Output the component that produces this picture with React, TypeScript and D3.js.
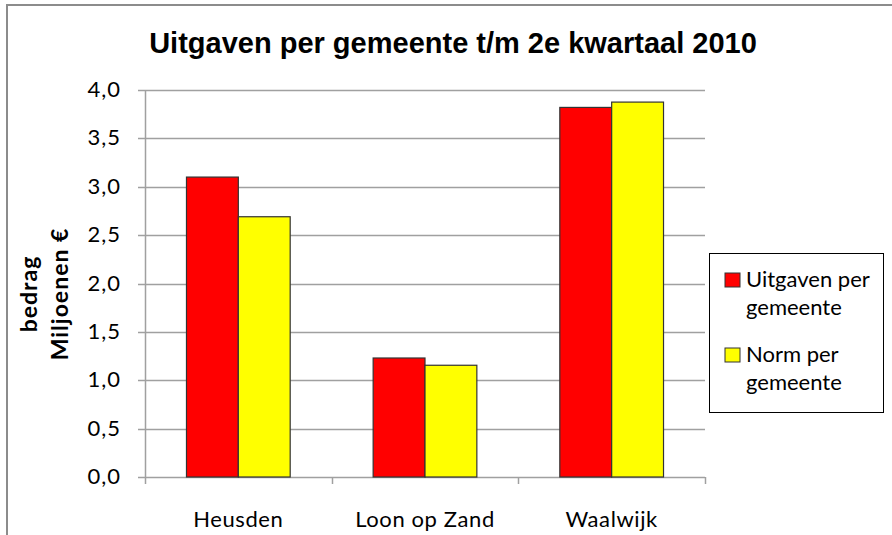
import React, { useEffect, useRef } from "react";
import * as d3 from "d3";

const categories = ["Heusden", "Loon op Zand", "Waalwijk"];
const seriesNames = ["Uitgaven per gemeente", "Norm per gemeente"];
const uitgaven = [3.1, 1.23, 3.82];
const norm = [2.69, 1.155, 3.875];
const yTicks = [0, 0.5, 1, 1.5, 2, 2.5, 3, 3.5, 4];
const colors = ["#ff0000", "#ffff00"];

const App = () => {
  const svgRef = useRef<SVGSVGElement>(null);
  const width = 892;
  const height = 535;

  useEffect(() => {
    const svg = d3.select(svgRef.current);
    svg.selectAll("*").remove();

    const font = "Lato, 'Open Sans', sans-serif";
    const plot = { left: 145, right: 705, top: 90, bottom: 477 };

    // outer frame
    svg
      .append("rect")
      .attr("x", 7)
      .attr("y", 5)
      .attr("width", 950)
      .attr("height", 600)
      .attr("fill", "white")
      .attr("stroke", "#8c8c8c")
      .attr("stroke-width", 2);

    // title
    svg
      .append("text")
      .attr("x", 453)
      .attr("y", 53)
      .attr("text-anchor", "middle")
      .style("font-family", "'Liberation Sans', Arial, sans-serif")
      .style("font-weight", "bold")
      .style("font-size", "29px")
      .text("Uitgaven per gemeente t/m 2e kwartaal 2010");

    const x0 = d3
      .scaleBand()
      .domain(categories)
      .range([plot.left, plot.right])
      .paddingInner(0)
      .paddingOuter(0);

    const x1 = d3
      .scaleBand()
      .domain(["0", "1"])
      .range([0, x0.bandwidth()])
      .paddingOuter(0.8)
      .paddingInner(0);

    const y = d3.scaleLinear().domain([0, 4]).range([plot.bottom, plot.top]);

    // gridlines
    svg
      .append("g")
      .selectAll("line")
      .data(yTicks)
      .enter()
      .append("line")
      .attr("x1", plot.left - 7)
      .attr("x2", plot.right)
      .attr("y1", (d) => Math.round(y(d)) + 0.5)
      .attr("y2", (d) => Math.round(y(d)) + 0.5)
      .attr("stroke", "#a0a0a0")
      .attr("stroke-width", 1.5);

    // y axis line
    svg
      .append("line")
      .attr("x1", plot.left + 0.5)
      .attr("x2", plot.left + 0.5)
      .attr("y1", plot.top)
      .attr("y2", plot.bottom + 7)
      .attr("stroke", "#a0a0a0")
      .attr("stroke-width", 1.5);

    // x tick marks at category boundaries
    const boundaries = categories.map((c) => (x0(c) as number) + x0.bandwidth());
    svg
      .append("g")
      .selectAll("line")
      .data(boundaries)
      .enter()
      .append("line")
      .attr("x1", (d) => Math.round(d) + 0.5)
      .attr("x2", (d) => Math.round(d) + 0.5)
      .attr("y1", plot.bottom)
      .attr("y2", plot.bottom + 7)
      .attr("stroke", "#a0a0a0")
      .attr("stroke-width", 1.5);

    // y tick labels
    svg
      .append("g")
      .selectAll("text")
      .data(yTicks)
      .enter()
      .append("text")
      .attr("x", 121)
      .attr("y", (d) => y(d) + 7)
      .attr("text-anchor", "end")
      .style("font-family", font)
      .style("font-size", "22px")
      .style("letter-spacing", "1px")
      .text((d) => d3.format(".1f")(d).replace(".", ","));

    // bars
    const groups = svg
      .append("g")
      .selectAll("g")
      .data(categories)
      .enter()
      .append("g")
      .attr("transform", (d) => `translate(${x0(d)},0)`);

    groups
      .selectAll("rect")
      .data((d, i) => [uitgaven[i], norm[i]])
      .enter()
      .append("rect")
      .attr("x", (d, j) => x1(String(j)) as number)
      .attr("y", (d) => y(d))
      .attr("width", x1.bandwidth())
      .attr("height", (d) => plot.bottom - y(d))
      .attr("fill", (d, j) => colors[j])
      .attr("stroke", "#333")
      .attr("stroke-width", 1.2);

    // x labels
    svg
      .append("g")
      .selectAll("text")
      .data(categories)
      .enter()
      .append("text")
      .attr("x", (d) => (x0(d) as number) + x0.bandwidth() / 2)
      .attr("y", 527)
      .attr("text-anchor", "middle")
      .style("font-family", font)
      .style("font-size", "22px")
      .style("letter-spacing", "0.6px")
      .text((d) => d);

    // y axis title
    const yTitle = svg
      .append("text")
      .attr("transform", "translate(0,294) rotate(-90)")
      .attr("text-anchor", "middle")
      .style("font-family", font)
      .style("font-weight", "bold")
      .style("font-size", "23px")
      .style("letter-spacing", "1px");
    yTitle.append("tspan").attr("x", 0).attr("y", 37).text("bedrag");
    yTitle.append("tspan").attr("x", 0).attr("y", 68).text("Miljoenen €");

    // legend
    const legend = svg.append("g");
    legend
      .append("rect")
      .attr("x", 709.5)
      .attr("y", 253.5)
      .attr("width", 174)
      .attr("height", 159)
      .attr("fill", "white")
      .attr("stroke", "#000")
      .attr("stroke-width", 1);

    const legendTop = [287, 362];
    seriesNames.forEach((name, i) => {
      const words = name.split(" ");
      const first = words.slice(0, 2).join(" ");
      const second = words.slice(2).join(" ");
      legend
        .append("rect")
        .attr("x", 725)
        .attr("y", legendTop[i] - 14)
        .attr("width", 15)
        .attr("height", 14)
        .attr("fill", colors[i])
        .attr("stroke", "#333")
        .attr("stroke-width", 1);
      legend
        .append("text")
        .attr("x", 746)
        .attr("y", legendTop[i])
        .style("font-family", font)
        .style("font-size", "22px")
        .text(first);
      legend
        .append("text")
        .attr("x", 746)
        .attr("y", legendTop[i] + 28)
        .style("font-family", font)
        .style("font-size", "22px")
        .text(second);
    });
  }, []);

  return (
    <svg
      ref={svgRef}
      width={width}
      height={height}
      style={{ position: "absolute", left: 0, top: 0 }}
    ></svg>
  );
};

export default App;
